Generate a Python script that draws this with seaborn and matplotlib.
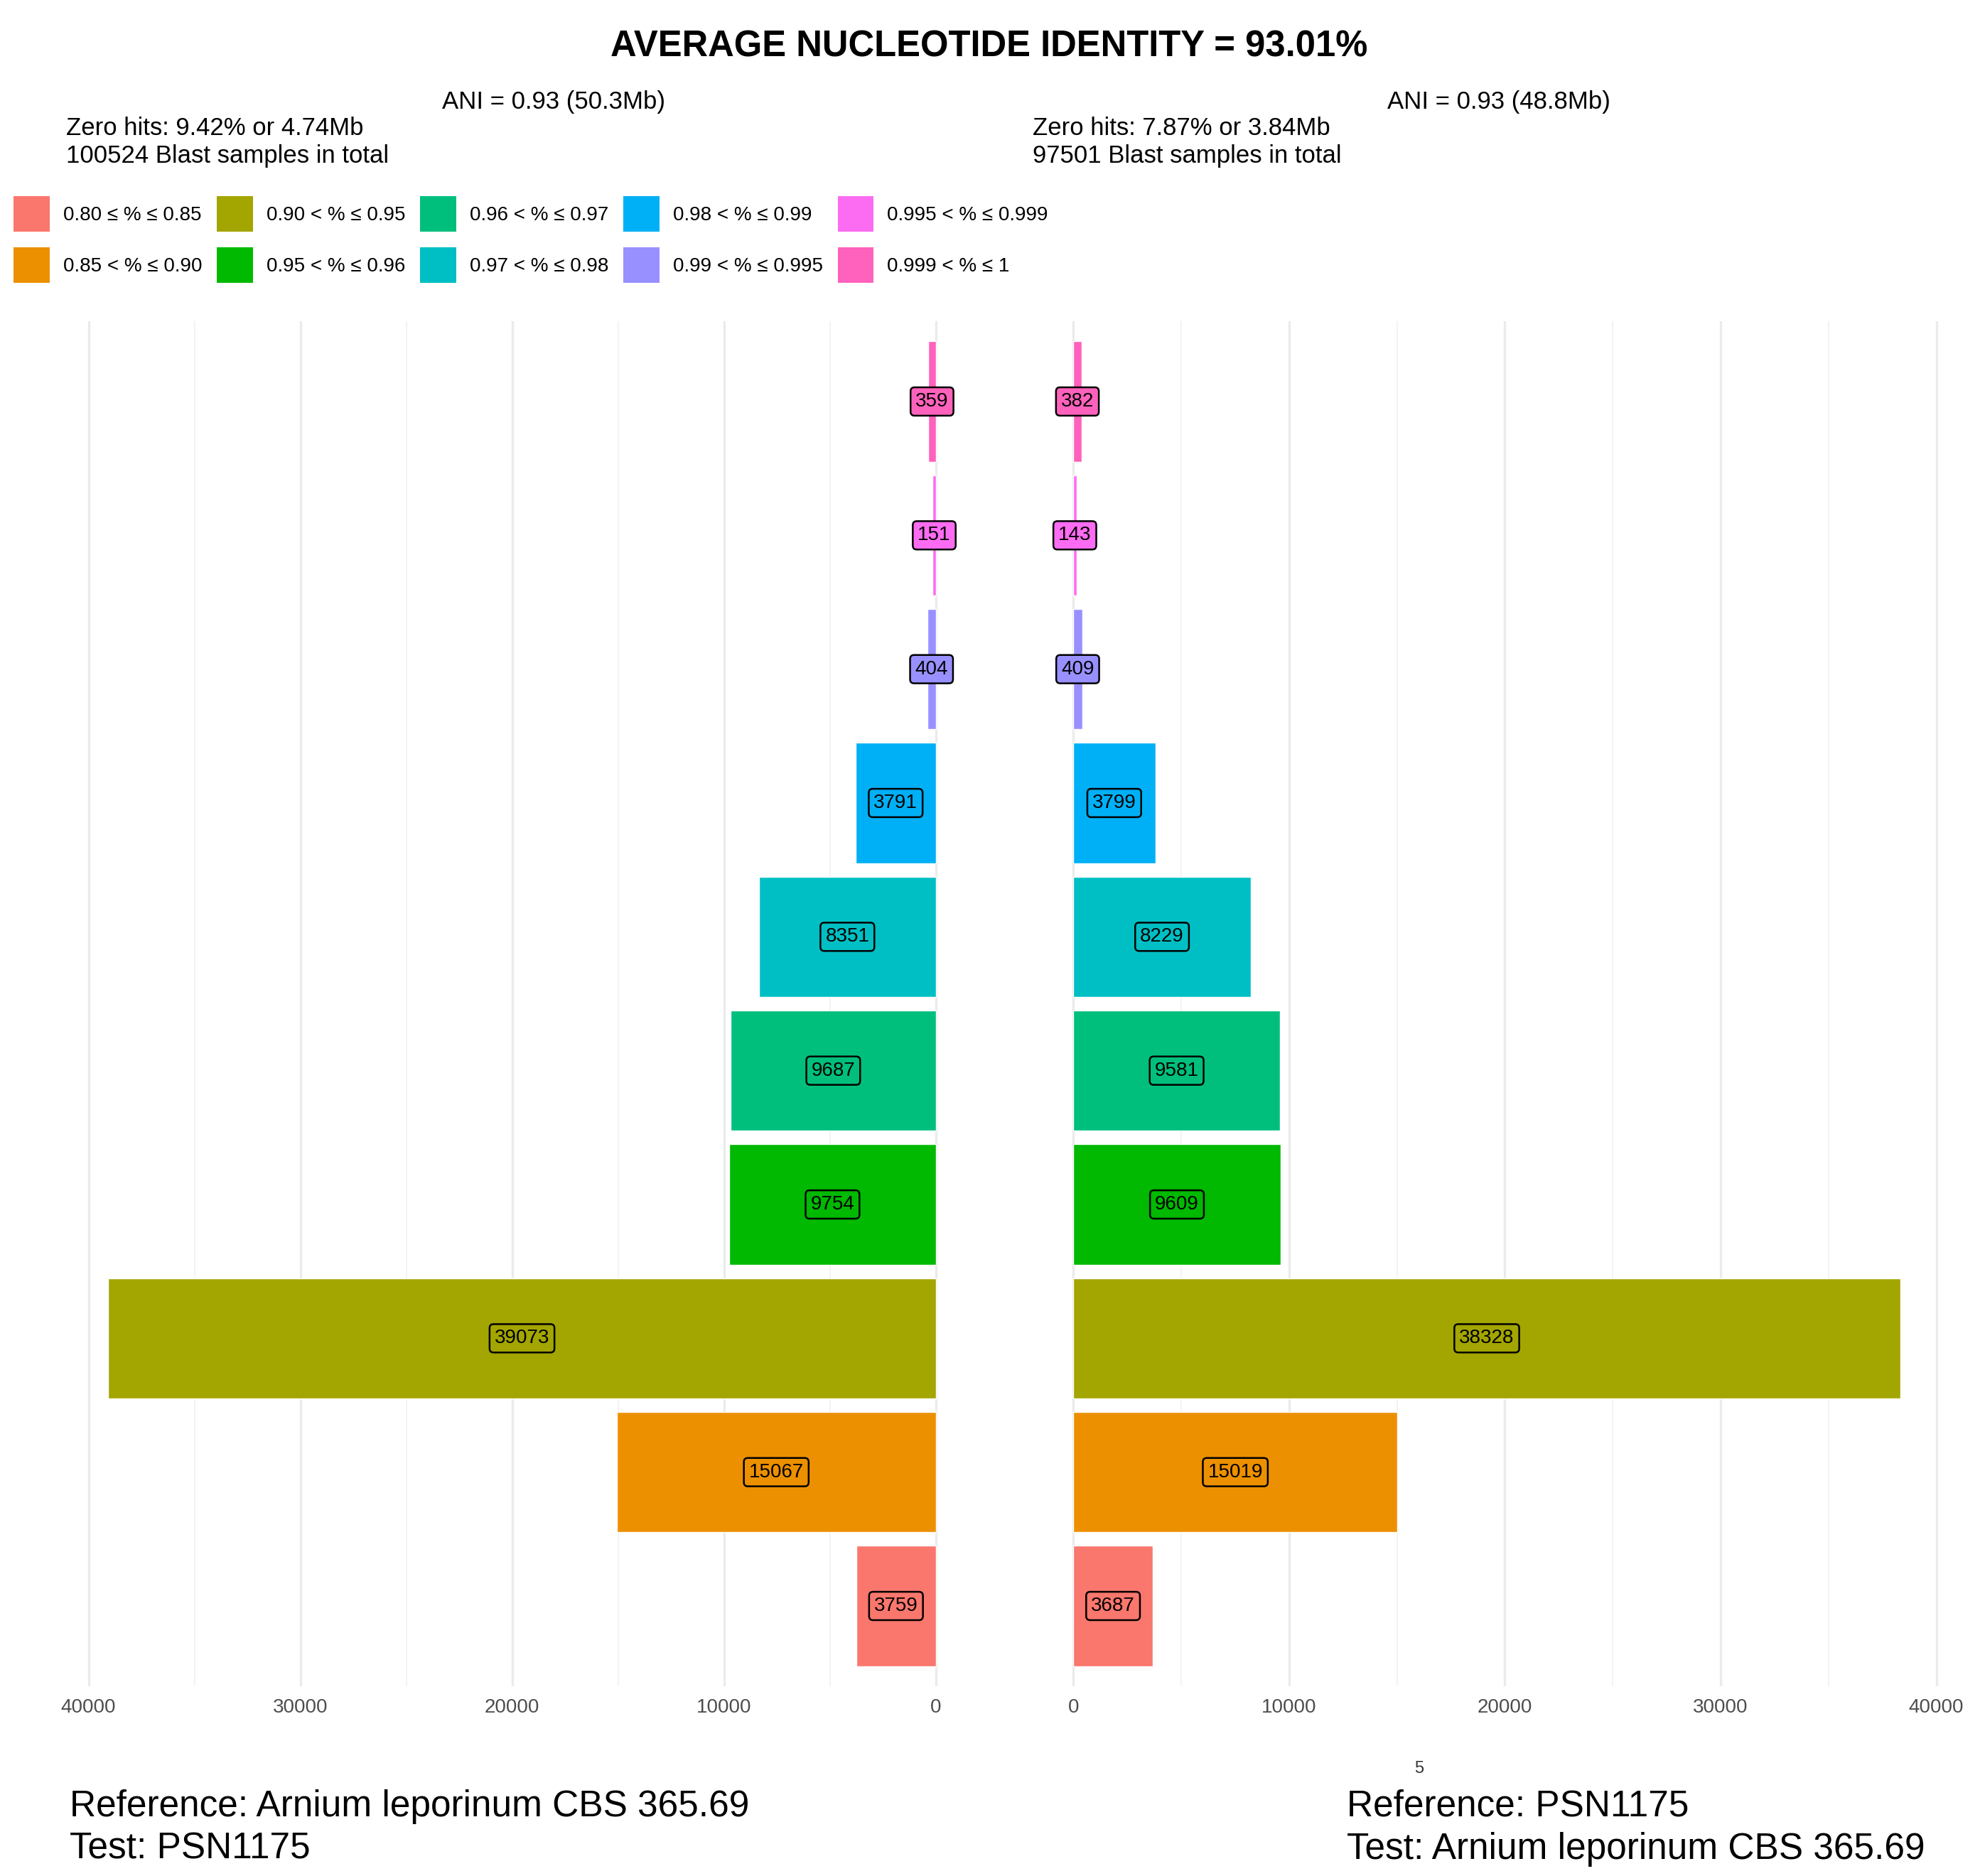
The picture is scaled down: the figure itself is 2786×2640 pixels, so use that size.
import pandas as pd
import seaborn as sns
import matplotlib.pyplot as plt
from matplotlib.patches import Patch
from matplotlib.ticker import MultipleLocator

# identity bins, bottom to top
categories = ["0.80 ≤ % ≤ 0.85", "0.85 < % ≤ 0.90", "0.90 < % ≤ 0.95", "0.95 < % ≤ 0.96",
              "0.96 < % ≤ 0.97", "0.97 < % ≤ 0.98", "0.98 < % ≤ 0.99", "0.99 < % ≤ 0.995",
              "0.995 < % ≤ 0.999", "0.999 < % ≤ 1"]
colors = ["#F9776D", "#EC9000", "#A3A500", "#00B900", "#00BF7D",
          "#00BFC4", "#00B0F6", "#9990FF", "#FC6CF2", "#FF62BC"]

# Blast sample counts per bin
left_counts = [3759, 15067, 39073, 9754, 9687, 8351, 3791, 404, 151, 359]
right_counts = [3687, 15019, 38328, 9609, 9581, 8229, 3799, 409, 143, 382]
tick_values = [0, 10000, 20000, 30000, 40000]

sns.set_theme(style="white")
plt.rcParams['font.family'] = ['Liberation Sans', 'DejaVu Sans']
plt.rcParams['text.color'] = 'black'

W, H = 2786, 2640
fig = plt.figure(figsize=(W / 100, H / 100), dpi=100)


def fx(x):
    return x / W


def fy(y):
    return 1 - y / H


ax_l = fig.add_axes([fx(94), fy(2373), 1281 / W, 1921 / H])
ax_r = fig.add_axes([fx(1452), fy(2373), 1280 / W, 1921 / H])


def draw_side(ax, counts, flip):
    df = pd.DataFrame({"bin": categories, "count": counts})
    order = categories[::-1]
    sns.barplot(data=df, x="count", y="bin", hue="bin", order=order, hue_order=categories,
                palette=colors, width=0.9, saturation=1, legend=False, ax=ax)
    hi = max(counts)
    pad = 0.05 * hi
    if flip:
        ax.set_xlim(hi + pad, -pad)
    else:
        ax.set_xlim(-pad, hi + pad)
    ax.set_ylim(len(categories) - 1 + 0.6, -0.6)

    ax.set_xticks(tick_values)
    ax.set_xticklabels([str(t) for t in tick_values])
    ax.xaxis.set_minor_locator(MultipleLocator(5000))
    ax.grid(axis='x', which='major', color='#EBEBEB', lw=2.4)
    ax.grid(axis='x', which='minor', color='#F3F3F3', lw=1.4)
    ax.set_axisbelow(True)
    ax.tick_params(axis='x', which='both', length=0, pad=12, labelsize=20, labelcolor='#4D4D4D')
    ax.tick_params(axis='y', left=False, labelleft=False)
    ax.set_xlabel('')
    ax.set_ylabel('')
    for s in ax.spines.values():
        s.set_visible(False)

    for i, val in enumerate(counts):
        ypos = order.index(categories[i])
        ax.text(val / 2, ypos, str(val), ha='center', va='center', fontsize=20, color='black',
                bbox=dict(boxstyle='round,pad=0.25,rounding_size=0.2', fc=colors[i],
                          ec='black', lw=1.8))


draw_side(ax_l, left_counts, True)
draw_side(ax_r, right_counts, False)

# titles and annotations
fig.text(fx(1392), fy(80), "AVERAGE NUCLEOTIDE IDENTITY = 93.01%", ha='center', va='baseline',
         fontsize=36.5, fontweight='bold')
fig.text(fx(779), fy(153), "ANI = 0.93 (50.3Mb)", ha='center', va='baseline', fontsize=25)
fig.text(fx(2109), fy(153), "ANI = 0.93 (48.8Mb)", ha='center', va='baseline', fontsize=25)
fig.text(fx(93), fy(190), "Zero hits: 9.42% or 4.74Mb", ha='left', va='baseline', fontsize=25)
fig.text(fx(93), fy(229), "100524 Blast samples in total", ha='left', va='baseline', fontsize=25)
fig.text(fx(1453), fy(190), "Zero hits: 7.87% or 3.84Mb", ha='left', va='baseline', fontsize=25)
fig.text(fx(1453), fy(229), "97501 Blast samples in total", ha='left', va='baseline', fontsize=25)

fig.text(fx(98), fy(2556), "Reference: Arnium leporinum CBS 365.69", ha='left', va='baseline', fontsize=37)
fig.text(fx(98), fy(2616), "Test: PSN1175", ha='left', va='baseline', fontsize=37)
fig.text(fx(1895), fy(2556), "Reference: PSN1175", ha='left', va='baseline', fontsize=37)
fig.text(fx(1895), fy(2616), "Test: Arnium leporinum CBS 365.69", ha='left', va='baseline', fontsize=37)
fig.text(fx(1997), fy(2495), "5", ha='center', va='baseline', fontsize=17, color='#333333')

handles = [Patch(facecolor=c, edgecolor='none') for c in colors]
fig.legend(handles, categories, ncol=5, loc='upper left', bbox_to_anchor=(fx(19), fy(276)),
           frameon=False, fontsize=20, handlelength=1.83, handleheight=2.39, handletextpad=0.68,
           columnspacing=0.75, labelspacing=0.81, borderpad=0, borderaxespad=0)

fig.savefig("out.png", dpi=100, facecolor='white')
